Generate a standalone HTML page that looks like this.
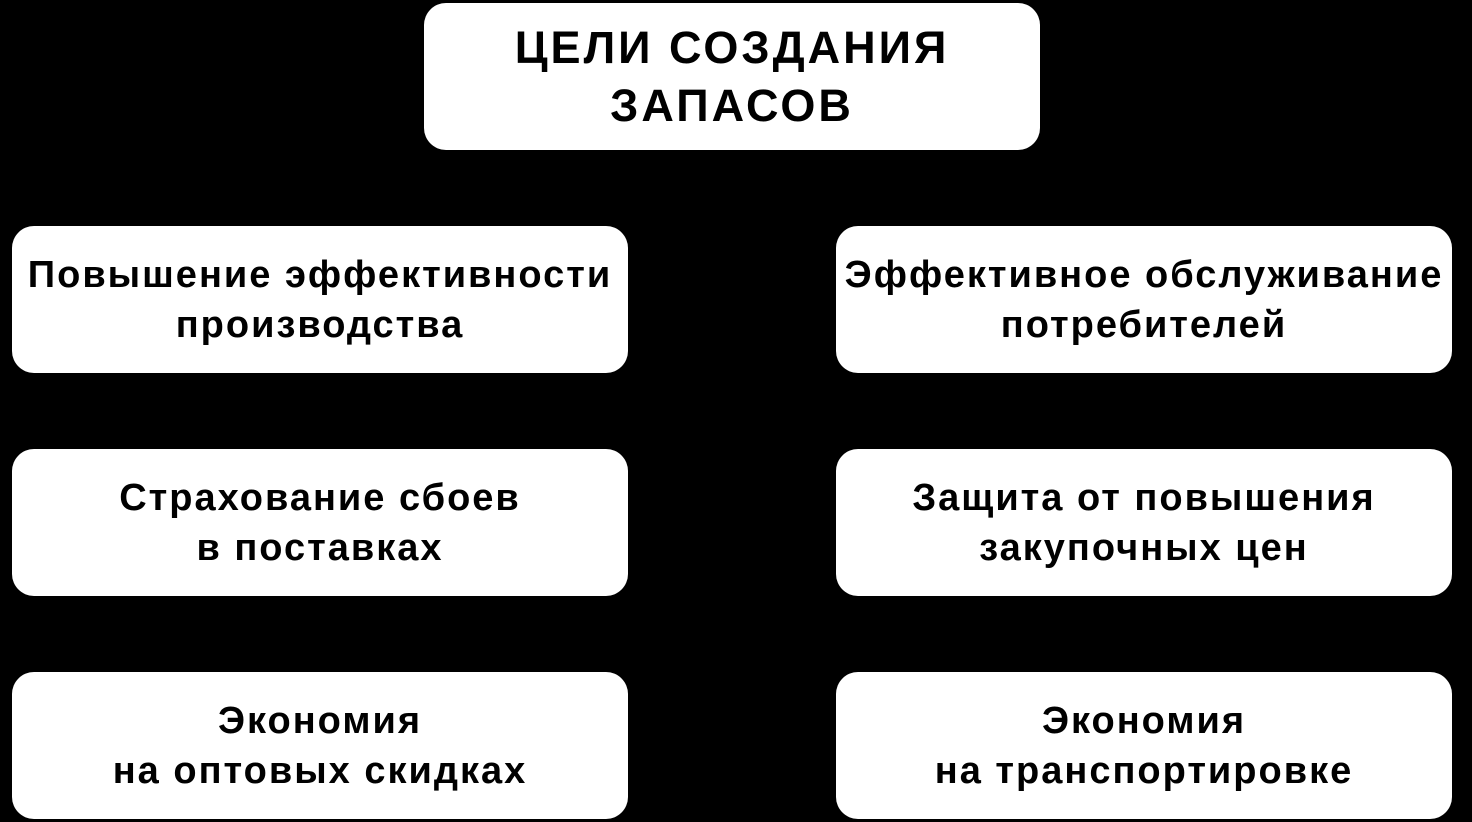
<!DOCTYPE html>
<html><head><meta charset="utf-8"><style>
html,body{margin:0;padding:0;background:#000;width:1472px;height:822px;overflow:hidden}
.b{position:absolute;background:#fff;border-radius:22px;display:flex;align-items:center;justify-content:center;text-align:center;font-family:"Liberation Sans",sans-serif;font-weight:bold;color:#000;font-size:38px;line-height:50px;letter-spacing:2px}
.t{font-size:45px;line-height:58px;letter-spacing:3px}
</style></head><body>
<div class="b t" style="left:424px;top:3px;width:616px;height:147px">ЦЕЛИ СОЗДАНИЯ<br>ЗАПАСОВ</div>
<div class="b" style="left:12px;top:226px;width:616px;height:147px">Повышение эффективности<br>производства</div>
<div class="b" style="left:836px;top:226px;width:616px;height:147px">Эффективное обслуживание<br>потребителей</div>
<div class="b" style="left:12px;top:449px;width:616px;height:147px">Страхование сбоев<br>в поставках</div>
<div class="b" style="left:836px;top:449px;width:616px;height:147px">Защита от повышения<br>закупочных цен</div>
<div class="b" style="left:12px;top:672px;width:616px;height:147px">Экономия<br>на оптовых скидках</div>
<div class="b" style="left:836px;top:672px;width:616px;height:147px">Экономия<br>на транспортировке</div>
</body></html>
